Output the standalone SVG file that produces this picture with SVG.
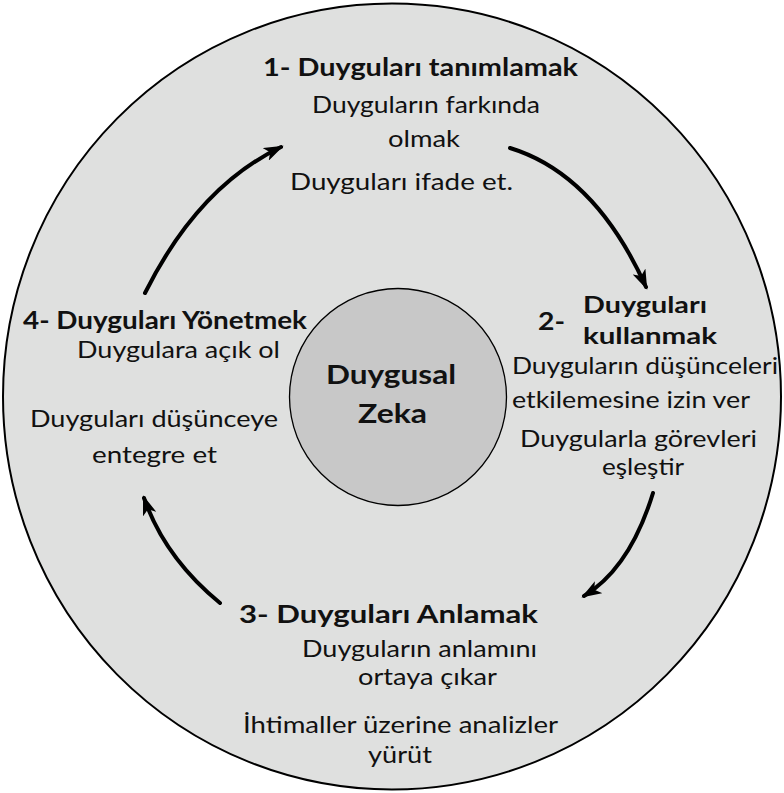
<svg xmlns="http://www.w3.org/2000/svg" width="784" height="793" viewBox="0 0 784 793">
<defs>
<style>
.t{font-family:Lato,"Open Sans","Liberation Sans",sans-serif;font-size:24px;fill:#111}
.b{font-weight:bold;font-size:25px}
.s{font-size:23px}
.c{font-size:27px}
.arr{fill:none;stroke:#000;stroke-width:4;stroke-linecap:round}
</style>
<marker id="ah" viewBox="0 0 20 14" refX="17" refY="7" markerWidth="20" markerHeight="14" markerUnits="userSpaceOnUse" orient="auto">
<path d="M0,0 L20,7 L0,14 L5,7 z" fill="#000"/>
</marker>
</defs>
<rect width="784" height="793" fill="#fff"/>
<g id="outer">
<ellipse cx="392" cy="396.5" rx="389" ry="393" fill="#dfe0df" stroke="#000" stroke-width="2"/>
</g>
<g id="center">
<circle cx="398" cy="397" r="108.5" fill="#c8c8c8" stroke="#000" stroke-width="1.3"/>
<text class="t b c" x="326" y="384" textLength="130" lengthAdjust="spacingAndGlyphs">Duygusal</text>
<text class="t b c" x="358" y="423" textLength="69" lengthAdjust="spacingAndGlyphs">Zeka</text>
</g>
<g id="connectors">
<path class="arr" d="M145,293 Q198,187 281,147" marker-end="url(#ah)"/>
<path class="arr" d="M510,148 Q595,174 646,287" marker-end="url(#ah)"/>
<path class="arr" d="M653,493 Q630,568 584,596" marker-end="url(#ah)"/>
<path class="arr" d="M220,603 Q165,558 144,498" marker-end="url(#ah)"/>
</g>
<g id="node1">
<text class="t b" x="263" y="76" textLength="315" lengthAdjust="spacingAndGlyphs">1- Duyguları  tanımlamak</text>
<text class="t" x="312" y="113" textLength="228" lengthAdjust="spacingAndGlyphs">Duyguların farkında</text>
<text class="t" x="388" y="147" textLength="72" lengthAdjust="spacingAndGlyphs">olmak</text>
<text class="t" x="290" y="190" textLength="223" lengthAdjust="spacingAndGlyphs">Duyguları  ifade  et.</text>
</g>
<g id="node2">
<text class="t b" x="538" y="330" textLength="27" lengthAdjust="spacingAndGlyphs">2-</text>
<text class="t b s" x="583" y="313" textLength="124" lengthAdjust="spacingAndGlyphs">Duyguları</text>
<text class="t b s" x="583" y="344" textLength="134" lengthAdjust="spacingAndGlyphs">kullanmak</text>
<text class="t" x="512" y="374" textLength="266" lengthAdjust="spacingAndGlyphs">Duyguların  düşünceleri</text>
<text class="t" x="512" y="408" textLength="238" lengthAdjust="spacingAndGlyphs">etkilemesine  izin  ver</text>
<text class="t" x="520" y="447" textLength="237" lengthAdjust="spacingAndGlyphs">Duygularla  görevleri</text>
<text class="t" x="602" y="475" textLength="82" lengthAdjust="spacingAndGlyphs">eşleştir</text>
</g>
<g id="node3">
<text class="t b" x="239" y="623" textLength="299" lengthAdjust="spacingAndGlyphs">3- Duyguları  Anlamak</text>
<text class="t" x="302" y="657" textLength="235" lengthAdjust="spacingAndGlyphs">Duyguların  anlamını</text>
<text class="t" x="358" y="685" textLength="139" lengthAdjust="spacingAndGlyphs">ortaya çıkar</text>
<text class="t" x="243" y="733" textLength="315" lengthAdjust="spacingAndGlyphs">İhtimaller üzerine analizler</text>
<text class="t" x="368" y="763" textLength="64" lengthAdjust="spacingAndGlyphs">yürüt</text>
</g>
<g id="node4">
<text class="t b" x="23" y="329" textLength="284" lengthAdjust="spacingAndGlyphs">4- Duyguları  Yönetmek</text>
<text class="t" x="77" y="358" textLength="203" lengthAdjust="spacingAndGlyphs">Duygulara  açık  ol</text>
<text class="t" x="30" y="427" textLength="248" lengthAdjust="spacingAndGlyphs">Duyguları  düşünceye</text>
<text class="t" x="92" y="463" textLength="125" lengthAdjust="spacingAndGlyphs">entegre  et</text>
</g>
</svg>
